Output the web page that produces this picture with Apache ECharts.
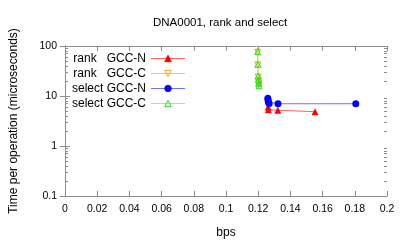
<!DOCTYPE html>
<html>
<head>
<meta charset="utf-8">
<script src="https://cdn.jsdelivr.net/npm/echarts@6/dist/echarts.min.js"></script>
<style>
html,body{margin:0;padding:0;background:#fff;}
#c{width:407px;height:244px;}
</style>
</head>
<body>
<div id="c"></div>
<script>
// ---- data ----
const seriesNames = ['rank   GCC-N', 'rank   GCC-C', 'select GCC-N', 'select GCC-C'];
const rankNX = [0.1262, 0.1263, 0.1322, 0.1553];
const rankNY = [6.0, 5.3, 5.2, 4.85];
const rankCX = [0.1196, 0.1197, 0.1198, 0.1200, 0.1201, 0.1203, 0.1205];
const rankCY = [140, 75, 42, 24, 20, 18, 16];
const selectNX = [0.1260, 0.1261, 0.1263, 0.1268, 0.1323, 0.1806];
const selectNY = [9.0, 8.3, 7.6, 7.1, 7.0, 7.0];
const selectCX = [0.1196, 0.1197, 0.1198, 0.1200, 0.1201, 0.1203, 0.1205];
const selectCY = [140, 77, 43, 25, 21, 18, 16];
const xTicks = [0, 0.02, 0.04, 0.06, 0.08, 0.1, 0.12, 0.14, 0.16, 0.18, 0.2];
const yTicks = [0.1, 1, 10, 100];
const yMinorTicks = [0.2,0.3,0.4,0.5,0.6,0.7,0.8,0.9,2,3,4,5,6,7,8,9,20,30,40,50,60,70,80,90];

function pairs(xs, ys) { return xs.map((x, i) => [x, ys[i]]); }

const axisGray = '#8c8c8c';
const font = 'Liberation Sans, Arial, sans-serif';

const chart = echarts.init(document.getElementById('c'), null, {renderer: 'canvas'});

// main log axis (left) with labels
const yMain = {
  type: 'log', logBase: 10, min: 0.1, max: 100, position: 'left',
  axisLine: {show: true, lineStyle: {color: axisGray, width: 1}},
  axisTick: {show: true, inside: true, length: 5, lineStyle: {color: axisGray}, customValues: yTicks},
  axisLabel: {show: true, color: '#000', fontSize: 10.5, fontFamily: font, margin: 8,
    customValues: yTicks, formatter: v => String(+(+v).toPrecision(3))},
  splitLine: {show: false},
  name: 'Time per operation (microseconds)',
  nameLocation: 'middle', nameGap: 45,
  nameTextStyle: {color: '#000', fontSize: 12, fontFamily: font}
};
// tick-only log axes (no data)
function yTickAx(pos, vals, len, line) {
  return {
    type: 'log', logBase: 10, min: 0.1, max: 100, position: pos,
    axisLine: {show: line, lineStyle: {color: axisGray, width: 1}},
    axisTick: {show: true, inside: true, length: len, lineStyle: {color: axisGray}, customValues: vals},
    axisLabel: {show: false},
    splitLine: {show: false}
  };
}

function xAx(pos) {
  return {
    type: 'value', min: 0, max: 0.2, interval: 0.02, position: pos,
    axisLine: {show: true, onZero: false, lineStyle: {color: axisGray, width: 1}},
    axisTick: {show: true, inside: true, length: 5, lineStyle: {color: axisGray}},
    axisLabel: pos === 'bottom'
      ? {show: true, color: '#000', fontSize: 10.5, fontFamily: font, margin: 8,
         formatter: v => String(+(+v).toFixed(2))}
      : {show: false},
    splitLine: {show: false},
    name: pos === 'bottom' ? 'bps' : '',
    nameLocation: 'middle', nameGap: 31,
    nameTextStyle: {color: '#000', fontSize: 12, fontFamily: font}
  };
}

const styles = [
  {line: '#ff6060', sym: 'triangle', rot: 0, fill: '#ff0000', border: '#ff0000', bw: 0, size: 7},
  {line: '#ffc060', sym: 'triangle', rot: 180, fill: 'rgba(0,0,0,0)', border: '#ffa500', bw: 1, size: 6},
  {line: '#7070ff', sym: 'circle', rot: 0, fill: '#0000ff', border: '#0000ff', bw: 0, size: 7},
  {line: '#80ff80', sym: 'triangle', rot: 0, fill: 'rgba(0,0,0,0)', border: '#20e020', bw: 1, size: 6}
];
const dataSets = [pairs(rankNX, rankNY), pairs(rankCX, rankCY), pairs(selectNX, selectNY), pairs(selectCX, selectCY)];

const series = seriesNames.map((n, i) => ({
  name: n, type: 'line', xAxisIndex: 0, yAxisIndex: 0,
  data: dataSets[i],
  symbol: styles[i].sym, symbolRotate: styles[i].rot, symbolSize: styles[i].size,
  showAllSymbol: true, clip: true, animation: false,
  lineStyle: {color: styles[i].line, width: 1},
  itemStyle: {color: styles[i].fill, borderColor: styles[i].border, borderWidth: styles[i].bw},
  emphasis: {disabled: true}
}));

chart.setOption({
  backgroundColor: '#fff',
  animation: false,
  title: {
    text: 'DNA0001, rank and select', left: 153, top: 17, padding: 0,
    textStyle: {color: '#000', fontSize: 11.5, fontWeight: 'normal', fontFamily: font}
  },
  grid: {left: 60, right: 20, top: 46, bottom: 47.5, containLabel: false},
  legend: {
    orient: 'vertical', left: 72, top: 51, padding: 0, itemGap: 0,
    align: 'right', itemWidth: 34, itemHeight: 8,
    lineStyle: {width: 1},
    itemStyle: {borderWidth: 1},
    data: seriesNames,
    formatter: n => '{t|' + n + '}',
    textStyle: {color: '#000', fontSize: 12, fontFamily: font,
      rich: {t: {width: 74, align: 'right', fontSize: 12, height: 15, lineHeight: 15, fontFamily: font}}}
  },
  xAxis: [xAx('bottom'), xAx('top')],
  yAxis: [
    yMain,
    yTickAx('right', yTicks, 5, true),
    yTickAx('left', yMinorTicks, 3, false),
    yTickAx('right', yMinorTicks, 3, false)
  ],
  series: series
});
</script>
</body>
</html>
